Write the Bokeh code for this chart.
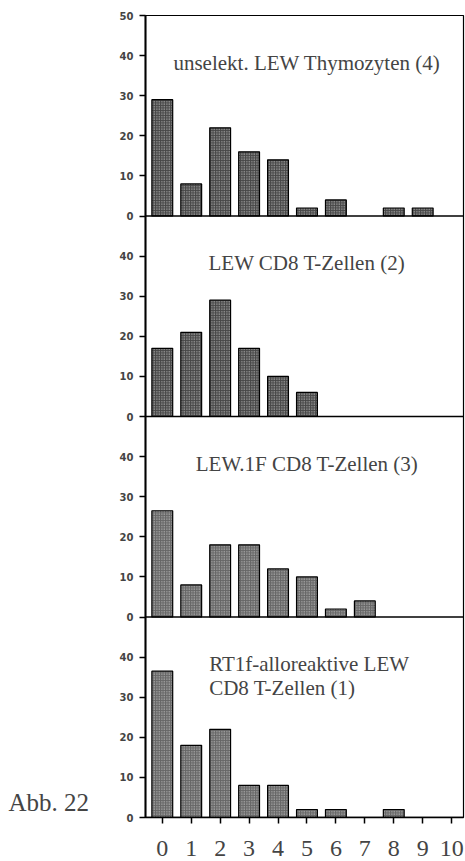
from bokeh.plotting import figure
from bokeh.layouts import row
from bokeh.models import Range1d, FixedTicker, Label, Span, ColumnDataSource
from bokeh.embed import file_html
from bokeh.resources import INLINE

# Share of cells (%) per class 0-10, four cell populations
categories = list(range(11))
thymozyten = [29, 8, 22, 16, 14, 2, 4, 0, 2, 2, 0]
lew_cd8 = [17, 21, 29, 17, 10, 6, 0, 0, 0, 0, 0]
lew1f_cd8 = [26.5, 8, 18, 18, 12, 10, 2, 4, 0, 0, 0]
alloreaktiv = [36.5, 18, 22, 8, 8, 2, 2, 0, 2, 0, 0]

panel_titles = [
    ["unselekt. LEW Thymozyten (4)"],
    ["LEW CD8 T-Zellen (2)"],
    ["LEW.1F CD8 T-Zellen (3)"],
    ["RT1f-alloreaktive LEW", "CD8 T-Zellen (1)"],
]
panel_series = [thymozyten, lew_cd8, lew1f_cd8, alloreaktiv]
y_ticks = [0, 10, 20, 30, 40]
x_ticks = categories
caption = "Abb. 22"

SPAN = 50  # each panel covers 0..50 %
n_panels = len(panel_series)
serif = "Liberation Serif"

# narrow left strip that carries the figure caption
CAP_W = 110
cap = figure(width=CAP_W, height=861, output_backend="svg", toolbar_location=None,
             x_range=Range1d(0, CAP_W), y_range=Range1d(0, 861),
             min_border=0, title=None)
cap.axis.visible = False
cap.grid.visible = False
cap.outline_line_color = None
cap.add_layout(Label(x=8, y=16, text=caption, text_font=serif,
                     text_font_size="25px", text_align="left",
                     text_baseline="alphabetic"))

p = figure(width=465 - CAP_W, height=861, output_backend="svg", toolbar_location=None,
           x_range=Range1d(-0.58, 10.41), y_range=Range1d(0, SPAN * n_panels),
           min_border_left=145 - CAP_W, min_border_right=2, min_border_top=15,
           min_border_bottom=44)
p.grid.visible = False
p.background_fill_color = "white"
p.border_fill_color = "white"
p.outline_line_color = "black"
p.outline_line_width = 1.2

fills = ["#474747", "#474747", "#666666", "#666666"]

tick_locs = []
overrides = {}
for i, (series, title, fill) in enumerate(zip(panel_series, panel_titles, fills)):
    base = SPAN * (n_panels - 1 - i)
    xs = [c for c, v in zip(categories, series) if v > 0]
    tops = [base + v for v in series if v > 0]
    src = ColumnDataSource(dict(x=xs, top=tops, bottom=[base] * len(xs)))
    p.vbar(x="x", top="top", bottom="bottom", width=0.72, source=src,
           fill_color=fill, line_color="black", line_width=1.2,
           hatch_pattern="dot", hatch_color="#d0d0d0", hatch_scale=2.5,
           hatch_weight=1)
    # panel base line
    p.add_layout(Span(location=base, dimension="width", line_color="black",
                      line_width=1.6))
    for t in y_ticks:
        tick_locs.append(base + t)
        overrides[base + t] = str(t)

    if len(title) == 1:
        p.add_layout(Label(x=5.0, y=base + 38.2, text=title[0],
                           text_font=serif, text_font_size="21px",
                           text_align="center", text_baseline="alphabetic"))
    else:
        p.add_layout(Label(x=1.62, y=base + 38.4, text=title[0],
                           text_font=serif, text_font_size="21px",
                           text_align="left", text_baseline="alphabetic"))
        p.add_layout(Label(x=1.62, y=base + 32.3, text=title[1],
                           text_font=serif, text_font_size="21px",
                           text_align="left", text_baseline="alphabetic"))

tick_locs.append(SPAN * n_panels)
overrides[SPAN * n_panels] = str(SPAN)

yax = p.yaxis[0]
yax.ticker = FixedTicker(ticks=tick_locs)
yax.major_label_overrides = overrides
yax.axis_line_width = 2
yax.major_tick_out = 6
yax.major_tick_in = 0
yax.major_tick_line_width = 1.5
yax.minor_tick_line_color = None
yax.major_label_standoff = 6
yax.major_label_text_font = "DejaVu Sans"
yax.major_label_text_font_style = "bold"
yax.major_label_text_font_size = "10px"

xax = p.xaxis[0]
xax.ticker = FixedTicker(ticks=x_ticks)
xax.axis_line_width = 1.6
xax.major_tick_out = 6
xax.major_tick_in = 0
xax.major_tick_line_width = 1.5
xax.minor_tick_line_color = None
xax.major_label_standoff = 17
xax.major_label_text_font = serif
xax.major_label_text_font_size = "24px"

layout = row(cap, p, spacing=0)
open("out.html", "w").write(file_html(layout, INLINE))
